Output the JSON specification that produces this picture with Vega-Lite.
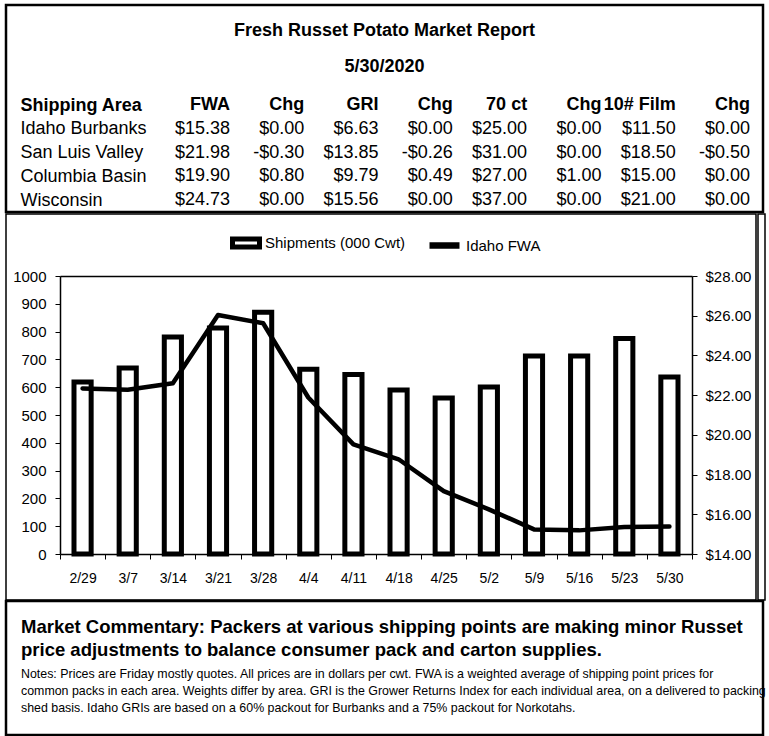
{
  "$schema": "https://vega.github.io/schema/vega-lite/v6.json",
  "background": "white",
  "padding": {"left": 4, "top": 3, "right": 4, "bottom": 2},
  "spacing": -2.25,
  "config": {
    "font": "Liberation Sans",
    "view": {"stroke": null},
    "axis": {"labelColor": "black", "domainColor": "black", "tickColor": "black", "labelFont": "Liberation Sans", "grid": false},
    "text": {"color": "black"}
  },
  "datasets": {
    "table": [
      {"area": "Idaho Burbanks", "FWA": "$15.38", "FWA Chg": "$0.00", "GRI": "$6.63", "GRI Chg": "$0.00", "70 ct": "$25.00", "70 ct Chg": "$0.00", "10# Film": "$11.50", "10# Film Chg": "$0.00"},
      {"area": "San Luis Valley", "FWA": "$21.98", "FWA Chg": "-$0.30", "GRI": "$13.85", "GRI Chg": "-$0.26", "70 ct": "$31.00", "70 ct Chg": "$0.00", "10# Film": "$18.50", "10# Film Chg": "-$0.50"},
      {"area": "Columbia Basin", "FWA": "$19.90", "FWA Chg": "$0.80", "GRI": "$9.79", "GRI Chg": "$0.49", "70 ct": "$27.00", "70 ct Chg": "$1.00", "10# Film": "$15.00", "10# Film Chg": "$0.00"},
      {"area": "Wisconsin", "FWA": "$24.73", "FWA Chg": "$0.00", "GRI": "$15.56", "GRI Chg": "$0.00", "70 ct": "$37.00", "70 ct Chg": "$0.00", "10# Film": "$21.00", "10# Film Chg": "$0.00"}
    ],
    "header": [
      {"col": "FWA", "label": "FWA"},
      {"col": "FWA Chg", "label": "Chg"},
      {"col": "GRI", "label": "GRI"},
      {"col": "GRI Chg", "label": "Chg"},
      {"col": "70 ct", "label": "70 ct"},
      {"col": "70 ct Chg", "label": "Chg"},
      {"col": "10# Film", "label": "10# Film"},
      {"col": "10# Film Chg", "label": "Chg"}
    ],
    "weekly": [
      {"date": "2/29", "ship": 619, "fwa": 22.34},
      {"date": "3/7", "ship": 669, "fwa": 22.27},
      {"date": "3/14", "ship": 781, "fwa": 22.60},
      {"date": "3/21", "ship": 813, "fwa": 26.04},
      {"date": "3/28", "ship": 870, "fwa": 25.62},
      {"date": "4/4", "ship": 665, "fwa": 21.88},
      {"date": "4/11", "ship": 646, "fwa": 19.52},
      {"date": "4/18", "ship": 590, "fwa": 18.77},
      {"date": "4/25", "ship": 561, "fwa": 17.17},
      {"date": "5/2", "ship": 601, "fwa": 16.25},
      {"date": "5/9", "ship": 712, "fwa": 15.24},
      {"date": "5/16", "ship": 712, "fwa": 15.19},
      {"date": "5/23", "ship": 775, "fwa": 15.36},
      {"date": "5/30", "ship": 637, "fwa": 15.38}
    ]
  },
  "vconcat": [
    {
      "width": 757,
      "height": 207,
      "view": {"stroke": "black", "strokeWidth": 2.5},
      "title": {
        "text": "Fresh Russet Potato Market Report",
        "subtitle": "5/30/2020",
        "anchor": "middle",
        "offset": -71,
        "font": "Liberation Sans",
        "fontSize": 18,
        "fontWeight": "bold",
        "color": "black",
        "subtitleFont": "Liberation Sans",
        "subtitleFontSize": 18,
        "subtitleFontWeight": "bold",
        "subtitleColor": "black",
        "subtitlePadding": 18
      },
      "layer": [
        {
          "data": {"name": "table"},
          "transform": [{"fold": ["FWA", "FWA Chg", "GRI", "GRI Chg", "70 ct", "70 ct Chg", "10# Film", "10# Film Chg"], "as": ["col", "val"]}],
          "mark": {"type": "text", "align": "right", "baseline": "middle", "fontSize": 18},
          "encoding": {
            "x": {"field": "col", "type": "nominal", "sort": null,
              "scale": {"type": "point", "domain": ["FWA", "FWA Chg", "GRI", "GRI Chg", "70 ct", "70 ct Chg", "10# Film", "10# Film Chg"], "range": [224, 744], "padding": 0},
              "axis": null},
            "y": {"field": "area", "type": "nominal",
              "scale": {"type": "point", "domain": ["Shipping Area", "Idaho Burbanks", "San Luis Valley", "Columbia Basin", "Wisconsin"], "range": [100, 195], "padding": 0},
              "axis": {"orient": "left", "offset": -14, "domain": false, "ticks": false, "tickSize": 0, "labelPadding": 0, "labelAlign": "left", "labelBaseline": "middle", "labelFontSize": 18, "labelLimit": 400, "title": null,
                "labelFontWeight": {"condition": {"test": "datum.value === 'Shipping Area'", "value": "bold"}, "value": "normal"}}},
            "text": {"field": "val"}
          }
        },
        {
          "data": {"name": "header"},
          "mark": {"type": "text", "align": "right", "baseline": "middle", "fontSize": 18, "fontWeight": "bold"},
          "encoding": {
            "x": {"field": "col", "type": "nominal", "sort": null},
            "y": {"datum": "Shipping Area", "type": "nominal"},
            "text": {"field": "label"}
          }
        }
      ]
    },
    {
      "hconcat": [
        {
          "width": 750,
          "height": 386,
          "view": {"stroke": "black", "strokeWidth": 1.5},
          "data": {"name": "weekly"},
          "layer": [
            {
              "mark": {"type": "bar", "fill": "white", "strokeWidth": 5, "width": {"band": 0.38}},
              "encoding": {
                "x": {"field": "date", "type": "nominal", "sort": null,
                  "scale": {"type": "band", "range": [54, 686], "paddingInner": 0, "paddingOuter": 0},
                  "axis": {"orient": "bottom", "offset": -46, "tickBand": "extent", "labelAngle": 0, "title": null, "tickSize": 5, "labelPadding": 12, "labelFontSize": 14, "domainWidth": 1.5}},
                "y": {"field": "ship", "type": "quantitative",
                  "scale": {"domain": [0, 1000], "range": [340, 62], "nice": false},
                  "axis": {"orient": "left", "offset": -54, "values": [0, 100, 200, 300, 400, 500, 600, 700, 800, 900, 1000], "format": "d", "title": null, "tickSize": 5, "labelPadding": 9, "labelFontSize": 15, "domainWidth": 1.5}},
                "stroke": {"datum": "Shipments (000 Cwt)",
                  "scale": {"domain": ["Shipments (000 Cwt)"], "range": ["black"]},
                  "legend": {
                    "title": null, "orient": "none", "legendX": 224, "legendY": 13,
                    "labelFontSize": 15, "labelColor": "black", "labelFont": "Liberation Sans", "labelOffset": 3,
                    "symbolType": "M-1,-0.3H1V0.3H-1Z", "symbolSize": 729, "symbolStrokeWidth": 5,
                    "symbolFillColor": "white", "symbolStrokeColor": "black", "symbolOpacity": 1
                  }}
              }
            },
            {
              "mark": {"type": "line", "strokeWidth": 4.5, "strokeCap": "round", "strokeJoin": "round"},
              "encoding": {
                "x": {"field": "date", "type": "nominal", "sort": null,
                  "axis": {"orient": "top", "offset": -62, "labels": false, "ticks": false, "title": null, "domainWidth": 1.5}},
                "y": {"field": "fwa", "type": "quantitative",
                  "scale": {"domain": [14, 28], "range": [340, 62], "nice": false, "zero": false},
                  "axis": {"orient": "right", "offset": -64, "values": [14, 16, 18, 20, 22, 24, 26, 28], "format": "$.2f", "title": null, "tickSize": 5, "labelPadding": 8, "labelFontSize": 15, "domainWidth": 1.5}},
                "stroke": {"datum": "Idaho FWA",
                  "scale": {"domain": ["Idaho FWA"], "range": ["black"]},
                  "legend": {
                    "title": null, "orient": "none", "legendX": 420, "legendY": 13,
                    "labelFontSize": 15, "labelColor": "black", "labelFont": "Liberation Sans", "labelOffset": 3,
                    "symbolType": "stroke", "symbolSize": 900, "symbolStrokeWidth": 6.5, "symbolStrokeColor": "black", "symbolOpacity": 1
                  }}
              }
            }
          ],
          "resolve": {"scale": {"y": "independent", "stroke": "independent"}, "axis": {"x": "independent"}, "legend": {"stroke": "independent"}}
        },
        {
          "width": 7,
          "height": 386,
          "view": {"stroke": "black", "strokeWidth": 1.5},
          "data": {"values": [{}]},
          "mark": {"type": "text"},
          "encoding": {"text": {"value": ""}}
        }
      ],
      "spacing": 0,
      "resolve": {"legend": {"stroke": "independent"}, "scale": {"stroke": "independent"}}
    },
    {
      "width": 757,
      "height": 134,
      "view": {"stroke": "black", "strokeWidth": 2.5},
      "title": {
        "text": ["Market Commentary: Packers at various shipping points are making minor Russet", "price adjustments to balance consumer pack and carton supplies."],
        "subtitle": ["Notes: Prices are Friday mostly quotes. All prices are in dollars per cwt. FWA is a weighted average of shipping point prices for", "common packs in each area. Weights differ by area. GRI is the Grower Returns Index for each individual area, on a delivered to packing", "shed basis. Idaho GRIs are based on a 60% packout for Burbanks and a 75% packout for Norkotahs."],
        "anchor": "start",
        "dx": 15,
        "offset": -113,
        "font": "Liberation Sans",
        "fontSize": 18.5,
        "fontWeight": "bold",
        "lineHeight": 23,
        "color": "black",
        "subtitleFont": "Liberation Sans",
        "subtitleFontSize": 12.4,
        "subtitleLineHeight": 17,
        "subtitlePadding": 8,
        "subtitleColor": "black"
      },
      "data": {"values": [{}]},
      "mark": {"type": "text"},
      "encoding": {"text": {"value": ""}}
    }
  ],
  "resolve": {"legend": {"stroke": "independent"}, "scale": {"stroke": "independent"}}
}
